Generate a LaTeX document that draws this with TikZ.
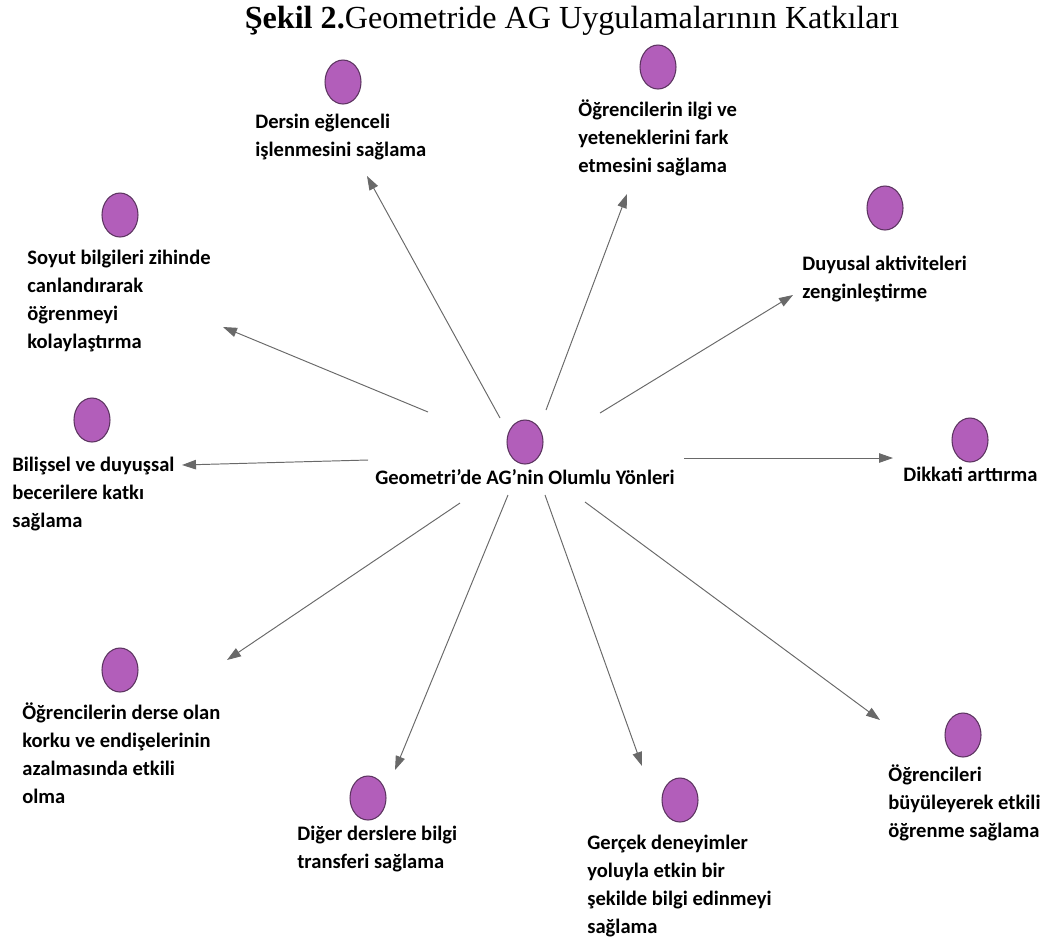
\documentclass[tikz,border=0pt]{standalone}
\usepackage{fontspec}
\setmainfont{Liberation Serif}
\newfontfamily\calib{Carlito}
\definecolor{blobfill}{RGB}{178,94,186}
\definecolor{blobline}{RGB}{92,52,96}
\definecolor{arrowgray}{RGB}{105,105,105}
\usetikzlibrary{arrows.meta,shapes.geometric}

\begin{document}
\begin{tikzpicture}[x=0.02cm, y=-0.02cm,
      blob/.style={ellipse, draw=blobline, line width=0.6pt, fill=blobfill,
        minimum width=0.72cm, minimum height=0.88cm, inner sep=0pt},
      % multi-line labels are placed by the baseline of their last line
      txt/.style={align=left, anchor=base west, inner sep=0pt,
        font=\calib\bfseries\fontsize{11.7}{15.9}\selectfont},
      imp/.style={-{Triangle[length=2.8mm, width=1.9mm]}, line width=0.55pt,
        color=arrowgray},
    ]
    \useasboundingbox (0,0) rectangle (1043,948);

    % title
    \node[anchor=base, inner sep=0pt, font=\fontsize{18.3}{22}\selectfont]
      (title) at (572,28) {\textbf{Şekil 2.}Geometride AG Uygulamalarının Katkıları};

    % centre
    \node[blob] (hub) at (525,442) {};
    \node[txt, anchor=base] (hubtxt) at (525,484) {Geometri’de AG’nin Olumlu Yönleri};

    % outer items
    \node[blob] (eglence) at (343,82) {};
    \node[txt] (eglencetxt) at (255,156) {Dersin eğlenceli\\işlenmesini sağlama};

    \node[blob] (ilgi) at (658,67) {};
    \node[txt] (ilgitxt) at (578,172) {Öğrencilerin ilgi ve\\yeteneklerini fark\\etmesini sağlama};

    \node[blob] (duyusal) at (885,208) {};
    \node[txt] (duyusaltxt) at (802,298) {Duyusal aktiviteleri\\zenginleştirme};

    \node[blob] (soyut) at (120,215) {};
    \node[txt] (soyuttxt) at (27,348) {Soyut bilgileri zihinde\\canlandırarak\\öğrenmeyi\\kolaylaştırma};

    \node[blob] (bilissel) at (92,420) {};
    \node[txt] (bilisseltxt) at (12,527) {Bilişsel ve duyuşsal\\becerilere katkı\\sağlama};

    \node[blob] (dikkat) at (970,440) {};
    \node[txt] (dikkattxt) at (903,481) {Dikkati arttırma};

    \node[blob] (korku) at (120,670) {};
    \node[txt] (korkutxt) at (22,803) {Öğrencilerin derse olan\\korku ve endişelerinin\\azalmasında etkili\\olma};

    \node[blob] (transfer) at (368,798) {};
    \node[txt] (transfertxt) at (297,868) {Diğer derslere bilgi\\transferi sağlama};

    \node[blob] (deneyim) at (680,800) {};
    \node[txt] (deneyimtxt) at (587,933) {Gerçek deneyimler\\yoluyla etkin bir\\şekilde bilgi edinmeyi\\sağlama};

    \node[blob] (buyu) at (963,735) {};
    \node[txt] (buyutxt) at (888,837) {Öğrencileri\\büyüleyerek etkili\\öğrenme sağlama};

    % arrow ends
    \coordinate (s1) at (500,418);  \coordinate (e1) at (367,176);
    \coordinate (s2) at (546,410);  \coordinate (e2) at (627,194);
    \coordinate (s3) at (600,413);  \coordinate (e3) at (793,295);
    \coordinate (s4) at (428,412);  \coordinate (e4) at (223,327);
    \coordinate (s5) at (368,460);  \coordinate (e5) at (182,465);
    \coordinate (s6) at (684,458);  \coordinate (e6) at (893,458);
    \coordinate (s7) at (460,503);  \coordinate (e7) at (227,660);
    \coordinate (s8) at (508,495);  \coordinate (e8) at (395,770);
    \coordinate (s9) at (545,495);  \coordinate (e9) at (642,766);
    \coordinate (s10) at (585,502); \coordinate (e10) at (880,720);

    \draw[imp] (s1) -- (e1);
    \draw[imp] (s2) -- (e2);
    \draw[imp] (s3) -- (e3);
    \draw[imp] (s4) -- (e4);
    \draw[imp] (s5) -- (e5);
    \draw[imp] (s6) -- (e6);
    \draw[imp] (s7) -- (e7);
    \draw[imp] (s8) -- (e8);
    \draw[imp] (s9) -- (e9);
    \draw[imp] (s10) -- (e10);
  \end{tikzpicture}
\end{document}
